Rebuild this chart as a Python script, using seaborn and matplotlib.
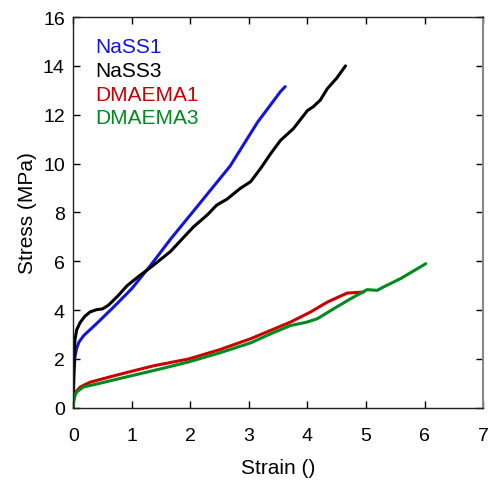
import numpy as np
import pandas as pd
import seaborn as sns
import matplotlib.pyplot as plt

names = ["NaSS1", "NaSS3", "DMAEMA1", "DMAEMA3"]
colors = ["#1414dc", "#000000", "#cc0000", "#008a1e"]

nass1_x = [0, 0.01, 0.03, 0.06, 0.1, 0.18, 0.4, 0.7, 1.0, 1.32, 1.67, 2.11, 2.51, 2.68, 3.15, 3.54, 3.62]
nass1_y = [0, 1.3, 2.1, 2.45, 2.7, 2.96, 3.45, 4.15, 4.88, 5.83, 6.93, 8.22, 9.4, 9.9, 11.7, 12.95, 13.15]

nass3_x = [0, 0.01, 0.02, 0.03, 0.06, 0.12, 0.2, 0.29, 0.4, 0.5, 0.6, 0.75, 0.92, 1.1, 1.35, 1.66,
           2.05, 2.29, 2.45, 2.63, 2.85, 3.03, 3.2, 3.37, 3.54, 3.76, 4.0, 4.1, 4.22, 4.34, 4.5, 4.65]
nass3_y = [0, 1.5, 2.3, 2.8, 3.2, 3.5, 3.75, 3.93, 4.02, 4.05, 4.2, 4.55, 5.0, 5.35, 5.8, 6.4,
           7.4, 7.9, 8.3, 8.55, 8.98, 9.26, 9.8, 10.4, 10.95, 11.43, 12.17, 12.33, 12.6, 13.07, 13.5, 14.0]

dma1_x = [0, 0.01, 0.03, 0.06, 0.12, 0.2, 0.29, 0.63, 0.97, 1.37, 1.97, 2.5, 3.03, 3.37, 3.71, 4.05, 4.34, 4.68, 4.96]
dma1_y = [0, 0.33, 0.55, 0.7, 0.85, 0.95, 1.05, 1.27, 1.48, 1.72, 2.0, 2.38, 2.83, 3.17, 3.51, 3.92, 4.33, 4.7, 4.74]

dma3_x = [0, 0.01, 0.03, 0.06, 0.17, 0.41, 0.97, 1.5, 1.97, 2.5, 3.03, 3.37, 3.71, 3.99, 4.17, 4.45, 4.74,
          5.02, 5.19, 5.3, 5.59, 6.02]
dma3_y = [0, 0.3, 0.5, 0.65, 0.85, 0.98, 1.3, 1.6, 1.88, 2.25, 2.66, 3.03, 3.37, 3.51, 3.65, 4.06, 4.47,
          4.84, 4.81, 4.95, 5.29, 5.9]

xs = [nass1_x, nass3_x, dma1_x, dma3_x]
ys = [nass1_y, nass3_y, dma1_y, dma3_y]
df = pd.concat([pd.DataFrame({"strain": x, "stress": y, "sample": n}) for x, y, n in zip(xs, ys, names)],
               ignore_index=True)

sns.set_style("ticks")
plt.rcParams['font.family'] = ['Liberation Sans', 'DejaVu Sans']
plt.rcParams['text.color'] = 'black'
plt.rcParams['axes.labelcolor'] = 'black'
plt.rcParams['xtick.color'] = 'black'
plt.rcParams['ytick.color'] = 'black'

fig = plt.figure(figsize=(4.88, 4.81), dpi=100)
ax = fig.add_axes([0.150, 0.150, 0.840, 0.8125])

sns.lineplot(data=df, x="strain", y="stress", hue="sample", palette=colors, sort=False,
             estimator=None, linewidth=2.2, legend=False, ax=ax)

ax.set_xlim(0, 7)
ax.set_ylim(0, 16)
ax.set_xticks(range(0, 8))
ax.set_yticks(range(0, 17, 2))
ax.set_xlabel("Strain ()", fontsize=15, labelpad=10)
ax.set_ylabel("Stress (MPa)", fontsize=15, labelpad=4)
ax.tick_params(direction="in", length=5, width=1, labelsize=14, top=True, right=True)
ax.tick_params(axis="x", pad=14)
ax.tick_params(axis="y", pad=6)
for s in ax.spines.values():
    s.set_color("#222222")
    s.set_linewidth(1)
ax.spines["right"].set_color("#888888")
ax.spines["right"].set_linewidth(1.5)

for i, (n, c) in enumerate(zip(names, colors)):
    ax.text(0.055, 0.925 - i * 0.061, n, color=c, fontsize=15, transform=ax.transAxes, va="center")

fig.savefig("out.png", dpi=100)
